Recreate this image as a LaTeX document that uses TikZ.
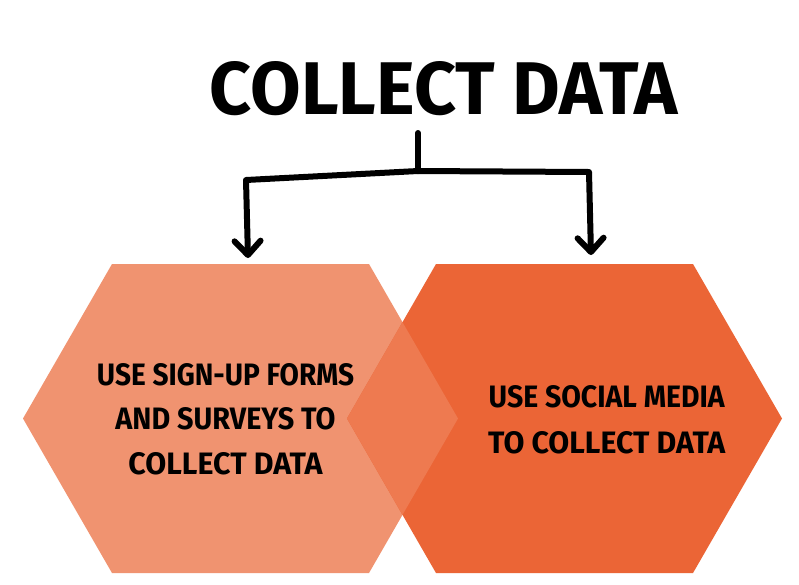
\documentclass[tikz,border=0pt]{standalone}
\usepackage{fontspec}
\usepackage{graphicx}
\usetikzlibrary{arrows.meta}
\newfontfamily\heavyfont{Fira Sans}
\definecolor{hexlight}{HTML}{F09370}
\definecolor{hexdark}{HTML}{EB6536}
\definecolor{hexmix}{HTML}{EE7A50}
\newcommand{\fitln}[2]{\resizebox{#1pt}{22pt}{\heavyfont\bfseries #2}}
\tikzset{
  hexfill/.style={draw=none},
  brace/.style={line width=6pt, line cap=round, line join=round},
  arrowline/.style={brace, -{Straight Barb[length=14pt,width=26pt,line width=6pt,round]}},
  label/.style={inner sep=0pt, align=center}
}
\begin{document}
\begin{tikzpicture}[x=1pt,y=-1pt]
\useasboundingbox (0,0) rectangle (799,584);
\fill[white] (0,0) rectangle (799,584);
% hexagons
\coordinate (L1) at (112,264); \coordinate (L2) at (369,264); \coordinate (L3) at (458,418.5);
\coordinate (L4) at (369,573); \coordinate (L5) at (112,573); \coordinate (L6) at (23,418.5);
\coordinate (R1) at (436,264); \coordinate (R2) at (693,264); \coordinate (R3) at (782,418.5);
\coordinate (R4) at (693,573); \coordinate (R5) at (436,573); \coordinate (R6) at (347,418.5);
\fill[hexlight] (L1) -- (L2) -- (L3) -- (L4) -- (L5) -- (L6) -- cycle;
\fill[hexdark] (R1) -- (R2) -- (R3) -- (R4) -- (R5) -- (R6) -- cycle;
\begin{scope}
  \clip (L1) -- (L2) -- (L3) -- (L4) -- (L5) -- (L6) -- cycle;
  \fill[hexmix] (R1) -- (R2) -- (R3) -- (R4) -- (R5) -- (R6) -- cycle;
\end{scope}
% title
\node[label] (title) at (444,89) {\resizebox{468pt}{53pt}{\heavyfont\bfseries COLLECT DATA}};
% connectors
\coordinate (stemtop) at (418,133);
\coordinate (junction) at (418,171);
\coordinate (leftcorner) at (246,180);
\coordinate (rightcorner) at (589,172);
\coordinate (lefttip) at (248,258);
\coordinate (righttip) at (591,255);
\draw[brace] (stemtop) -- (junction);
\draw[arrowline] (junction) -- (leftcorner) -- (lefttip);
\draw[arrowline] (junction) -- (rightcorner) -- (righttip);
% texts
\node[label] (lefttext) at (225.5,419) {%
  \fitln{257}{USE SIGN-UP FORMS}\\[21pt]
  \fitln{220}{AND SURVEYS TO}\\[21pt]
  \fitln{194}{COLLECT DATA}};
\node[label, anchor=west] (righttext) at (488,420) {%
  \fitln{236}{USE SOCIAL MEDIA}\\[22pt]
  \fitln{237}{TO COLLECT DATA}};
\end{tikzpicture}
\end{document}
